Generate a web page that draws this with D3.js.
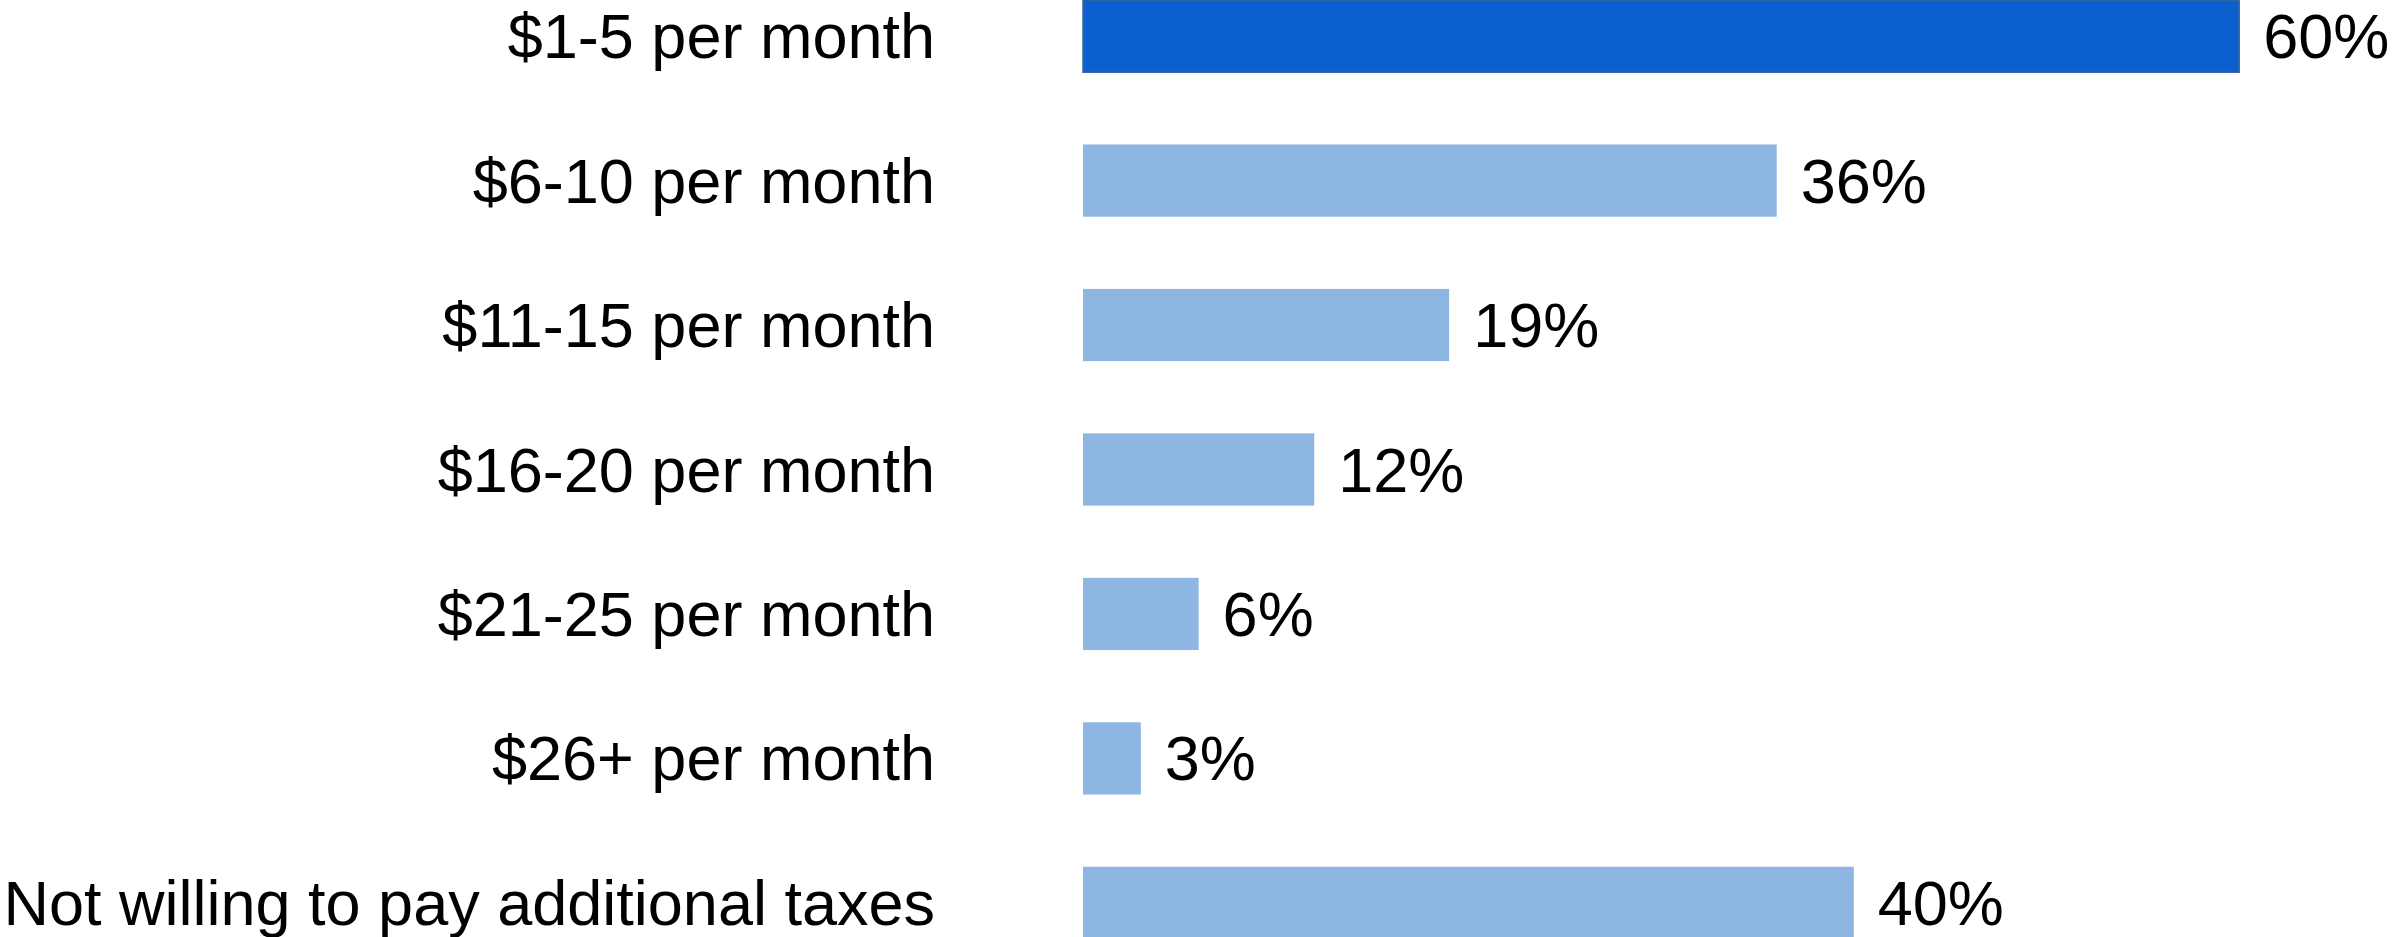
<!DOCTYPE html>
<html>
<head>
<meta charset="utf-8">
<script src="https://cdn.jsdelivr.net/npm/d3@7"></script>
<style>
  html, body { margin: 0; padding: 0; background: #fff; overflow: hidden; }
  text { font-family: "Liberation Sans", Arial, sans-serif; fill: #000; }
</style>
</head>
<body>
<div id="chart"></div>
<script>
const w = 2394;
const h = 937;

const categories = [
  "$1-5 per month",
  "$6-10 per month",
  "$11-15 per month",
  "$16-20 per month",
  "$21-25 per month",
  "$26+ per month",
  "Not willing to pay additional taxes"
];
const values = [60, 36, 19, 12, 6, 3, 40];
const highlighted = ["$1-5 per month"];

const barLeft = 1083;
const labelRight = 935;

const svg = d3.select("#chart")
  .append("svg")
  .attr("width", w)
  .attr("height", h);

const xScale = d3.scaleLinear()
  .domain([0, 100])
  .range([barLeft, barLeft + 1927]);

const yScale = d3.scaleBand()
  .domain(categories)
  .range([0, 939])
  .paddingInner(0.5)
  .paddingOuter(0);

const rows = categories.map((c, i) => ({ cat: c, val: values[i] }));

svg.selectAll("rect.bar")
  .data(rows)
  .enter()
  .append("rect")
  .attr("class", "bar")
  .attr("x", xScale(0))
  .attr("y", d => yScale(d.cat))
  .attr("width", d => xScale(d.val) - xScale(0))
  .attr("height", yScale.bandwidth())
  .attr("fill", d => highlighted.includes(d.cat) ? "#0c5fcf" : "#8eb6e2")
  .attr("stroke", d => highlighted.includes(d.cat) ? "#3d6595" : "none")
  .attr("stroke-width", 1.5);

// category labels
svg.selectAll("text.cat")
  .data(rows)
  .enter()
  .append("text")
  .attr("class", "cat")
  .attr("x", labelRight)
  .attr("y", d => yScale(d.cat) + yScale.bandwidth() / 2)
  .attr("dy", "0.35em")
  .attr("text-anchor", "end")
  .style("font-size", "63px")
  .text(d => d.cat);

// value labels
svg.selectAll("text.val")
  .data(rows)
  .enter()
  .append("text")
  .attr("class", "val")
  .attr("x", d => xScale(d.val) + 24)
  .attr("y", d => yScale(d.cat) + yScale.bandwidth() / 2)
  .attr("dy", "0.35em")
  .style("font-size", "63px")
  .text(d => d.val + "%");
</script>
</body>
</html>
